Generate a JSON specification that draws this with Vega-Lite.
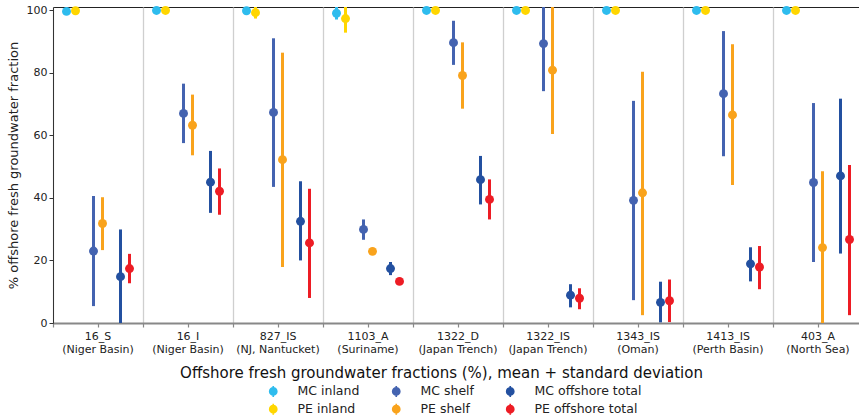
{
  "$schema": "https://vega.github.io/schema/vega-lite/v6.json",
  "autosize": "none",
  "padding": {"left": 53, "top": 7, "right": 0, "bottom": 95},
  "width": 810,
  "height": 316,
  "config": {
    "font": "DejaVu Sans",
    "view": {"stroke": "#222222", "strokeWidth": 1}
  },
  "data": {
    "values": [
      {"site": "16_S (Niger Basin)", "series": "MC inland", "mean": 99.6, "lo": 99.3, "hi": 99.9},
      {"site": "16_S (Niger Basin)", "series": "PE inland", "mean": 99.8, "lo": 99.6, "hi": 100.0},
      {"site": "16_S (Niger Basin)", "series": "MC shelf", "mean": 23.0, "lo": 5.4, "hi": 40.6},
      {"site": "16_S (Niger Basin)", "series": "PE shelf", "mean": 31.8, "lo": 23.3, "hi": 40.2},
      {"site": "16_S (Niger Basin)", "series": "MC offshore total", "mean": 14.8, "lo": -0.3, "hi": 29.9},
      {"site": "16_S (Niger Basin)", "series": "PE offshore total", "mean": 17.4, "lo": 12.7, "hi": 22.1},

      {"site": "16_I (Niger Basin)", "series": "MC inland", "mean": 99.9, "lo": 99.8, "hi": 100.0},
      {"site": "16_I (Niger Basin)", "series": "PE inland", "mean": 99.9, "lo": 99.8, "hi": 100.0},
      {"site": "16_I (Niger Basin)", "series": "MC shelf", "mean": 67.0, "lo": 57.5, "hi": 76.5},
      {"site": "16_I (Niger Basin)", "series": "PE shelf", "mean": 63.2, "lo": 53.6, "hi": 73.0},
      {"site": "16_I (Niger Basin)", "series": "MC offshore total", "mean": 45.0, "lo": 35.2, "hi": 55.0},
      {"site": "16_I (Niger Basin)", "series": "PE offshore total", "mean": 42.1, "lo": 34.6, "hi": 49.4},

      {"site": "827_IS (NJ, Nantucket)", "series": "MC inland", "mean": 99.8, "lo": 99.6, "hi": 100.0},
      {"site": "827_IS (NJ, Nantucket)", "series": "PE inland", "mean": 99.2, "lo": 97.3, "hi": 101.1},
      {"site": "827_IS (NJ, Nantucket)", "series": "MC shelf", "mean": 67.3, "lo": 43.5, "hi": 91.0},
      {"site": "827_IS (NJ, Nantucket)", "series": "PE shelf", "mean": 52.2, "lo": 17.9, "hi": 86.4},
      {"site": "827_IS (NJ, Nantucket)", "series": "MC offshore total", "mean": 32.5, "lo": 20.0, "hi": 45.3},
      {"site": "827_IS (NJ, Nantucket)", "series": "PE offshore total", "mean": 25.6, "lo": 8.0, "hi": 42.9},

      {"site": "1103_A (Suriname)", "series": "MC inland", "mean": 99.0, "lo": 97.0, "hi": 101.0},
      {"site": "1103_A (Suriname)", "series": "PE inland", "mean": 97.3, "lo": 92.8, "hi": 101.8},
      {"site": "1103_A (Suriname)", "series": "MC shelf", "mean": 29.9, "lo": 26.6, "hi": 33.1},
      {"site": "1103_A (Suriname)", "series": "PE shelf", "mean": 22.9, "lo": 22.4, "hi": 23.4},
      {"site": "1103_A (Suriname)", "series": "MC offshore total", "mean": 17.4, "lo": 15.3, "hi": 19.5},
      {"site": "1103_A (Suriname)", "series": "PE offshore total", "mean": 13.3, "lo": 13.0, "hi": 13.6},

      {"site": "1322_D (Japan Trench)", "series": "MC inland", "mean": 99.9, "lo": 99.8, "hi": 100.0},
      {"site": "1322_D (Japan Trench)", "series": "PE inland", "mean": 99.9, "lo": 99.8, "hi": 100.0},
      {"site": "1322_D (Japan Trench)", "series": "MC shelf", "mean": 89.6, "lo": 82.5, "hi": 96.6},
      {"site": "1322_D (Japan Trench)", "series": "PE shelf", "mean": 79.1, "lo": 68.5, "hi": 89.7},
      {"site": "1322_D (Japan Trench)", "series": "MC offshore total", "mean": 45.8, "lo": 37.9, "hi": 53.4},
      {"site": "1322_D (Japan Trench)", "series": "PE offshore total", "mean": 39.5, "lo": 33.1, "hi": 45.9},

      {"site": "1322_IS (Japan Trench)", "series": "MC inland", "mean": 99.9, "lo": 99.8, "hi": 100.0},
      {"site": "1322_IS (Japan Trench)", "series": "PE inland", "mean": 99.9, "lo": 99.8, "hi": 100.0},
      {"site": "1322_IS (Japan Trench)", "series": "MC shelf", "mean": 89.3, "lo": 74.1, "hi": 104.5},
      {"site": "1322_IS (Japan Trench)", "series": "PE shelf", "mean": 80.8, "lo": 60.4, "hi": 101.2},
      {"site": "1322_IS (Japan Trench)", "series": "MC offshore total", "mean": 8.9, "lo": 5.0, "hi": 12.4},
      {"site": "1322_IS (Japan Trench)", "series": "PE offshore total", "mean": 7.9, "lo": 4.4, "hi": 11.1},

      {"site": "1343_IS (Oman)", "series": "MC inland", "mean": 99.9, "lo": 99.8, "hi": 100.0},
      {"site": "1343_IS (Oman)", "series": "PE inland", "mean": 99.9, "lo": 99.8, "hi": 100.0},
      {"site": "1343_IS (Oman)", "series": "MC shelf", "mean": 39.2, "lo": 7.3, "hi": 71.0},
      {"site": "1343_IS (Oman)", "series": "PE shelf", "mean": 41.6, "lo": 2.5, "hi": 80.3},
      {"site": "1343_IS (Oman)", "series": "MC offshore total", "mean": 6.6, "lo": 0.2, "hi": 13.2},
      {"site": "1343_IS (Oman)", "series": "PE offshore total", "mean": 7.1, "lo": 0.3, "hi": 13.9},

      {"site": "1413_IS (Perth Basin)", "series": "MC inland", "mean": 99.9, "lo": 99.8, "hi": 100.0},
      {"site": "1413_IS (Perth Basin)", "series": "PE inland", "mean": 99.9, "lo": 99.8, "hi": 100.0},
      {"site": "1413_IS (Perth Basin)", "series": "MC shelf", "mean": 73.3, "lo": 53.3, "hi": 93.3},
      {"site": "1413_IS (Perth Basin)", "series": "PE shelf", "mean": 66.5, "lo": 44.1, "hi": 89.1},
      {"site": "1413_IS (Perth Basin)", "series": "MC offshore total", "mean": 18.9, "lo": 13.3, "hi": 24.2},
      {"site": "1413_IS (Perth Basin)", "series": "PE offshore total", "mean": 17.9, "lo": 10.8, "hi": 24.6},

      {"site": "403_A (North Sea)", "series": "MC inland", "mean": 99.9, "lo": 99.8, "hi": 100.0},
      {"site": "403_A (North Sea)", "series": "PE inland", "mean": 99.9, "lo": 99.8, "hi": 100.0},
      {"site": "403_A (North Sea)", "series": "MC shelf", "mean": 44.9, "lo": 19.5, "hi": 70.3},
      {"site": "403_A (North Sea)", "series": "PE shelf", "mean": 24.1, "lo": -0.3, "hi": 48.5},
      {"site": "403_A (North Sea)", "series": "MC offshore total", "mean": 47.0, "lo": 22.2, "hi": 71.7},
      {"site": "403_A (North Sea)", "series": "PE offshore total", "mean": 26.7, "lo": 2.5, "hi": 50.5}
    ]
  },
  "encoding": {
    "x": {
      "field": "site",
      "type": "nominal",
      "sort": null,
      "scale": {"paddingInner": 0, "paddingOuter": 0}
    },
    "xOffset": {
      "field": "series",
      "type": "nominal",
      "scale": {
        "type": "band",
        "domain": ["MC inland", "PE inland", "gap1", "MC shelf", "PE shelf", "gap2", "MC offshore total", "PE offshore total"],
        "paddingInner": 0,
        "paddingOuter": 1
      }
    },
    "color": {
      "field": "series",
      "type": "nominal",
      "scale": {
        "domain": ["MC inland", "MC shelf", "MC offshore total", "PE inland", "PE shelf", "PE offshore total"],
        "range": ["#2ebcee", "#4463b0", "#2350a0", "#ffd600", "#f9a31c", "#ed1c24"]
      },
      "legend": {
        "orient": "none",
        "legendX": 214,
        "legendY": 378,
        "direction": "horizontal",
        "columns": 3,
        "title": null,
        "padding": 0,
        "symbolType": "M-0.8,0A0.8,0.8,0,1,1,0.8,0A0.8,0.8,0,1,1,-0.8,0Z M-0.15,-1L0.15,-1L0.15,1L-0.15,1Z",
        "symbolSize": 121,
        "symbolStrokeWidth": 0,
        "symbolOpacity": 1,
        "labelFontSize": 12.5,
        "labelColor": "#222222",
        "labelOffset": 18,
        "columnPadding": 30,
        "rowPadding": 5
      }
    }
  },
  "layer": [
    {
      "mark": {"type": "rule", "strokeWidth": 3, "clip": true},
      "encoding": {
        "x": {
          "field": "site",
          "type": "nominal",
          "sort": null,
          "axis": {
            "orient": "bottom",
            "tickBand": "extent",
            "grid": true,
            "gridColor": "#cfcfcf",
            "gridWidth": 1.3,
            "labels": false,
            "title": null,
            "domain": false,
            "ticks": true,
            "tickSize": 4,
            "tickColor": "#888888",
            "tickWidth": 1.2
          }
        },
        "y": {
          "field": "lo",
          "type": "quantitative",
          "scale": {"domain": [0, 101], "nice": false, "zero": false},
          "axis": {
            "values": [0, 20, 40, 60, 80, 100],
            "title": "% offshore fresh groundwater fraction",
            "titleFontSize": 13,
            "titleFontWeight": "normal",
            "titleColor": "#222222",
            "titlePadding": 6,
            "labelFontSize": 11,
            "labelColor": "#222222",
            "tickSize": 4,
            "tickColor": "#333333",
            "domainColor": "#333333",
            "grid": false
          }
        },
        "y2": {"field": "hi"}
      }
    },
    {
      "mark": {"type": "point", "filled": true, "opacity": 1, "size": 80, "shape": "circle"},
      "encoding": {
        "x": {
          "field": "site",
          "type": "nominal",
          "sort": null,
          "axis": {
            "orient": "bottom",
            "labelAngle": 0,
            "labelExpr": "[split(datum.label, ' (')[0], '(' + split(datum.label, ' (')[1]]",
            "labelFontSize": 11,
            "labelLineHeight": 13,
            "labelColor": "#222222",
            "labelPadding": 3,
            "tickSize": 4,
            "tickColor": "#888888",
            "tickWidth": 1.2,
            "domainColor": "#888888",
            "domainWidth": 2,
            "grid": false,
            "title": "Offshore fresh groundwater fractions (%), mean + standard deviation",
            "titleFontSize": 15,
            "titleFontWeight": "normal",
            "titleColor": "#111111",
            "titlePadding": 11,
            "titleX": 388
          }
        },
        "y": {"field": "mean", "type": "quantitative"}
      }
    }
  ],
  "resolve": {"axis": {"x": "independent"}}
}
